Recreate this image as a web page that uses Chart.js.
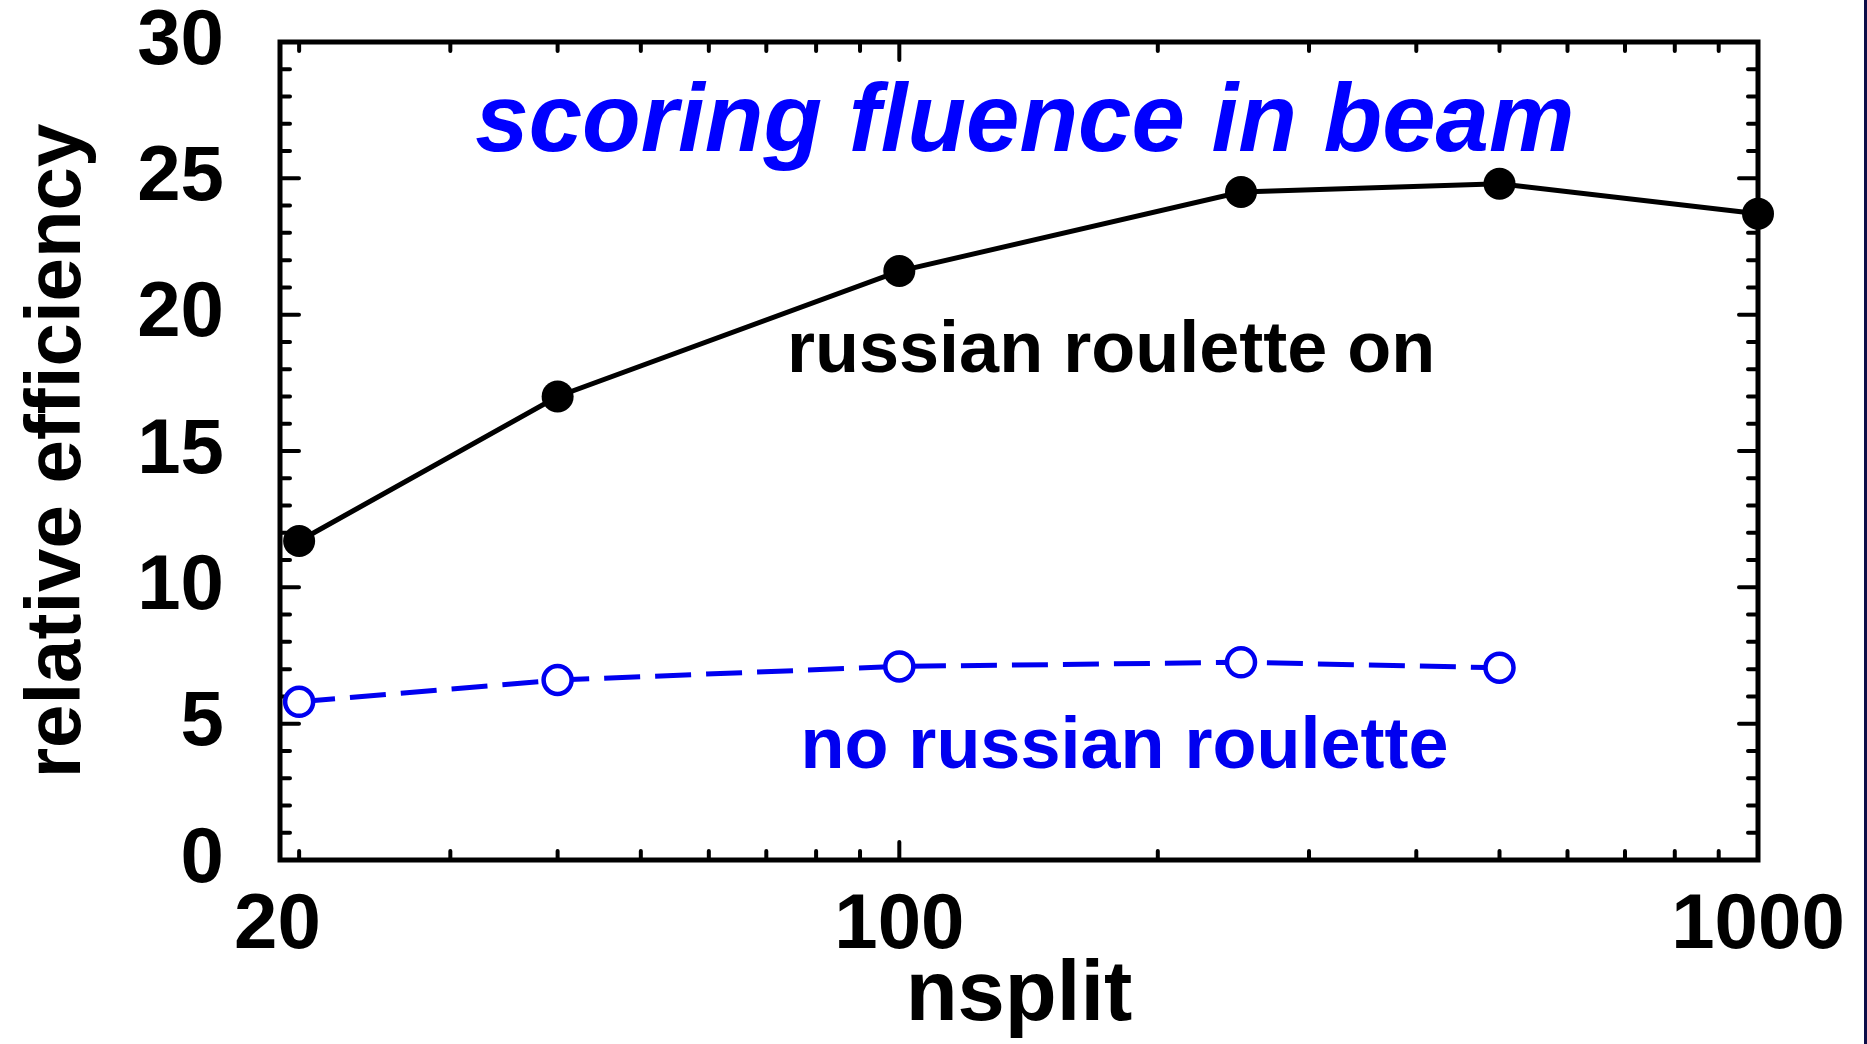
<!DOCTYPE html>
<html>
<head>
<meta charset="utf-8">
<title>relative efficiency vs nsplit</title>
<script src="https://cdn.jsdelivr.net/npm/chart.js@4/dist/chart.umd.min.js"></script>
<style>
  html, body { margin: 0; padding: 0; background: #ffffff; }
  #wrap { position: relative; width: 1867px; height: 1044px; overflow: hidden; }
  #wrap::after { content: ""; position: absolute; top: 0; right: 0; width: 3px; height: 100%; background: #0c0c48; }
  canvas { display: block; }
</style>
</head>
<body>
<div id="wrap"><canvas id="chart" width="1867" height="1044"></canvas></div>
<script>
// splitting number and relative efficiency of the two runs
const nsplit        = [20, 40, 100, 250, 500, 1000];
const effRouletteOn = [11.7, 17.0, 21.6, 24.5, 24.8, 23.7];
const nsplitNoRR    = [20, 40, 100, 250, 500];
const effNoRoulette = [5.8, 6.6, 7.1, 7.25, 7.05];

// axis tick labels
const xTickLabels = [20, 100, 1000];
const yTickStep = 5;

const FONT = '"Liberation Sans", Arial, Helvetica, sans-serif';
const BLUE = '#0000f0';

const pairs = (xs, ys) => xs.map((x, i) => ({ x: x, y: ys[i] }));

// frame with inward ticks on all four sides, plus the in-plot texts
const framePlugin = {
  id: 'frame',
  beforeDatasetsDraw(chart) {
    const { ctx, chartArea: a, scales: { x, y } } = chart;
    ctx.save();
    ctx.strokeStyle = '#000';
    ctx.lineCap = 'round';
    // y ticks: major every 5, minor every 1
    ctx.lineWidth = 4;
    for (let v = y.min + 1; v < y.max; v += 1) {
      const py = y.getPixelForValue(v);
      const len = (v % yTickStep === 0) ? 19 : 10;
      ctx.beginPath();
      ctx.moveTo(a.left, py); ctx.lineTo(a.left + len, py);
      ctx.moveTo(a.right, py); ctx.lineTo(a.right - len, py);
      ctx.stroke();
    }
    // x ticks on the log axis: 2..9 x decade (minor), decades (major)
    for (let dec = 10; dec <= 1000; dec *= 10) {
      for (let m = 1; m <= 9; m++) {
        const v = dec * m;
        if (v <= x.min || v >= x.max) continue;
        const px = x.getPixelForValue(v);
        const len = (m === 1) ? 18 : 9;
        ctx.beginPath();
        ctx.moveTo(px, a.bottom); ctx.lineTo(px, a.bottom - len);
        ctx.moveTo(px, a.top); ctx.lineTo(px, a.top + len);
        ctx.stroke();
      }
    }
    // frame
    ctx.lineCap = 'butt';
    ctx.lineWidth = 5;
    ctx.strokeRect(a.left, a.top, a.right - a.left, a.bottom - a.top);
    ctx.restore();
  },
  afterDatasetsDraw(chart) {
    const { ctx, scales: { x, y } } = chart;
    ctx.save();
    ctx.textBaseline = 'alphabetic';

    ctx.fillStyle = '#0000ff';
    ctx.font = 'italic bold 96px ' + FONT;
    ctx.textAlign = 'center';
    ctx.fillText('scoring fluence in beam', x.getPixelForValue(140), y.getPixelForValue(26.0));

    ctx.textAlign = 'left';
    ctx.font = 'bold 72px ' + FONT;
    ctx.fillStyle = '#000';
    ctx.fillText('russian roulette on', x.getPixelForValue(74), y.getPixelForValue(17.9));

    ctx.fillStyle = BLUE;
    ctx.fillText('no russian roulette', x.getPixelForValue(76.7), y.getPixelForValue(3.36));
    ctx.restore();
  }
};

new Chart(document.getElementById('chart'), {
  type: 'line',
  data: {
    datasets: [
      {
        label: 'russian roulette on',
        data: pairs(nsplit, effRouletteOn),
        borderColor: '#000',
        borderWidth: 5,
        pointRadius: 16,
        pointBackgroundColor: '#000',
        pointBorderColor: '#000',
        pointBorderWidth: 0,
        tension: 0,
        clip: false
      },
      {
        label: 'no russian roulette',
        data: pairs(nsplitNoRR, effNoRoulette),
        borderColor: BLUE,
        borderWidth: 5,
        borderDash: [36, 15],
        pointRadius: 14,
        pointBackgroundColor: '#fff',
        pointBorderColor: BLUE,
        pointBorderWidth: 4.5,
        tension: 0,
        clip: false
      }
    ]
  },
  options: {
    responsive: false,
    animation: false,
    events: [],
    layout: { padding: { top: 42, right: 109, left: 0, bottom: 0 } },
    plugins: { legend: { display: false }, tooltip: { enabled: false }, title: { display: false } },
    scales: {
      x: {
        type: 'logarithmic',
        min: 19,
        max: 1000,
        grid: { display: false, drawTicks: false },
        border: { display: false },
        afterBuildTicks(scale) { scale.ticks = xTickLabels.map(v => ({ value: v })); },
        afterFit(scale) {
          scale.height = 184;
          scale.paddingLeft = 0; scale.paddingRight = 0;
        },
        ticks: {
          autoSkip: false,
          maxRotation: 0,
          padding: 20,
          color: '#000',
          font: { family: FONT, size: 78, weight: 'bold' },
          // the first label sits a little left of its tick
          callback: (v) => (v === xTickLabels[0] ? String(v) + '  ' : String(v))
        },
        title: {
          display: true,
          text: 'nsplit',
          color: '#000',
          font: { family: FONT, size: 85, weight: 'bold', lineHeight: 1.0 },
          padding: { top: 0, bottom: 5 }
        }
      },
      y: {
        min: 0,
        max: 30,
        grid: { display: false, drawTicks: false },
        border: { display: false },
        afterFit(scale) {
          scale.width = 280;
          scale.paddingTop = 0; scale.paddingBottom = 0;
        },
        ticks: {
          stepSize: yTickStep,
          padding: 56,
          color: '#000',
          font: { family: FONT, size: 78, weight: 'bold' }
        },
        title: {
          display: true,
          text: 'relative efficiency',
          color: '#000',
          font: { family: FONT, size: 78, weight: 'bold' },
          padding: { top: 12, bottom: 0 }
        }
      }
    }
  },
  plugins: [framePlugin]
});
</script>
</body>
</html>
